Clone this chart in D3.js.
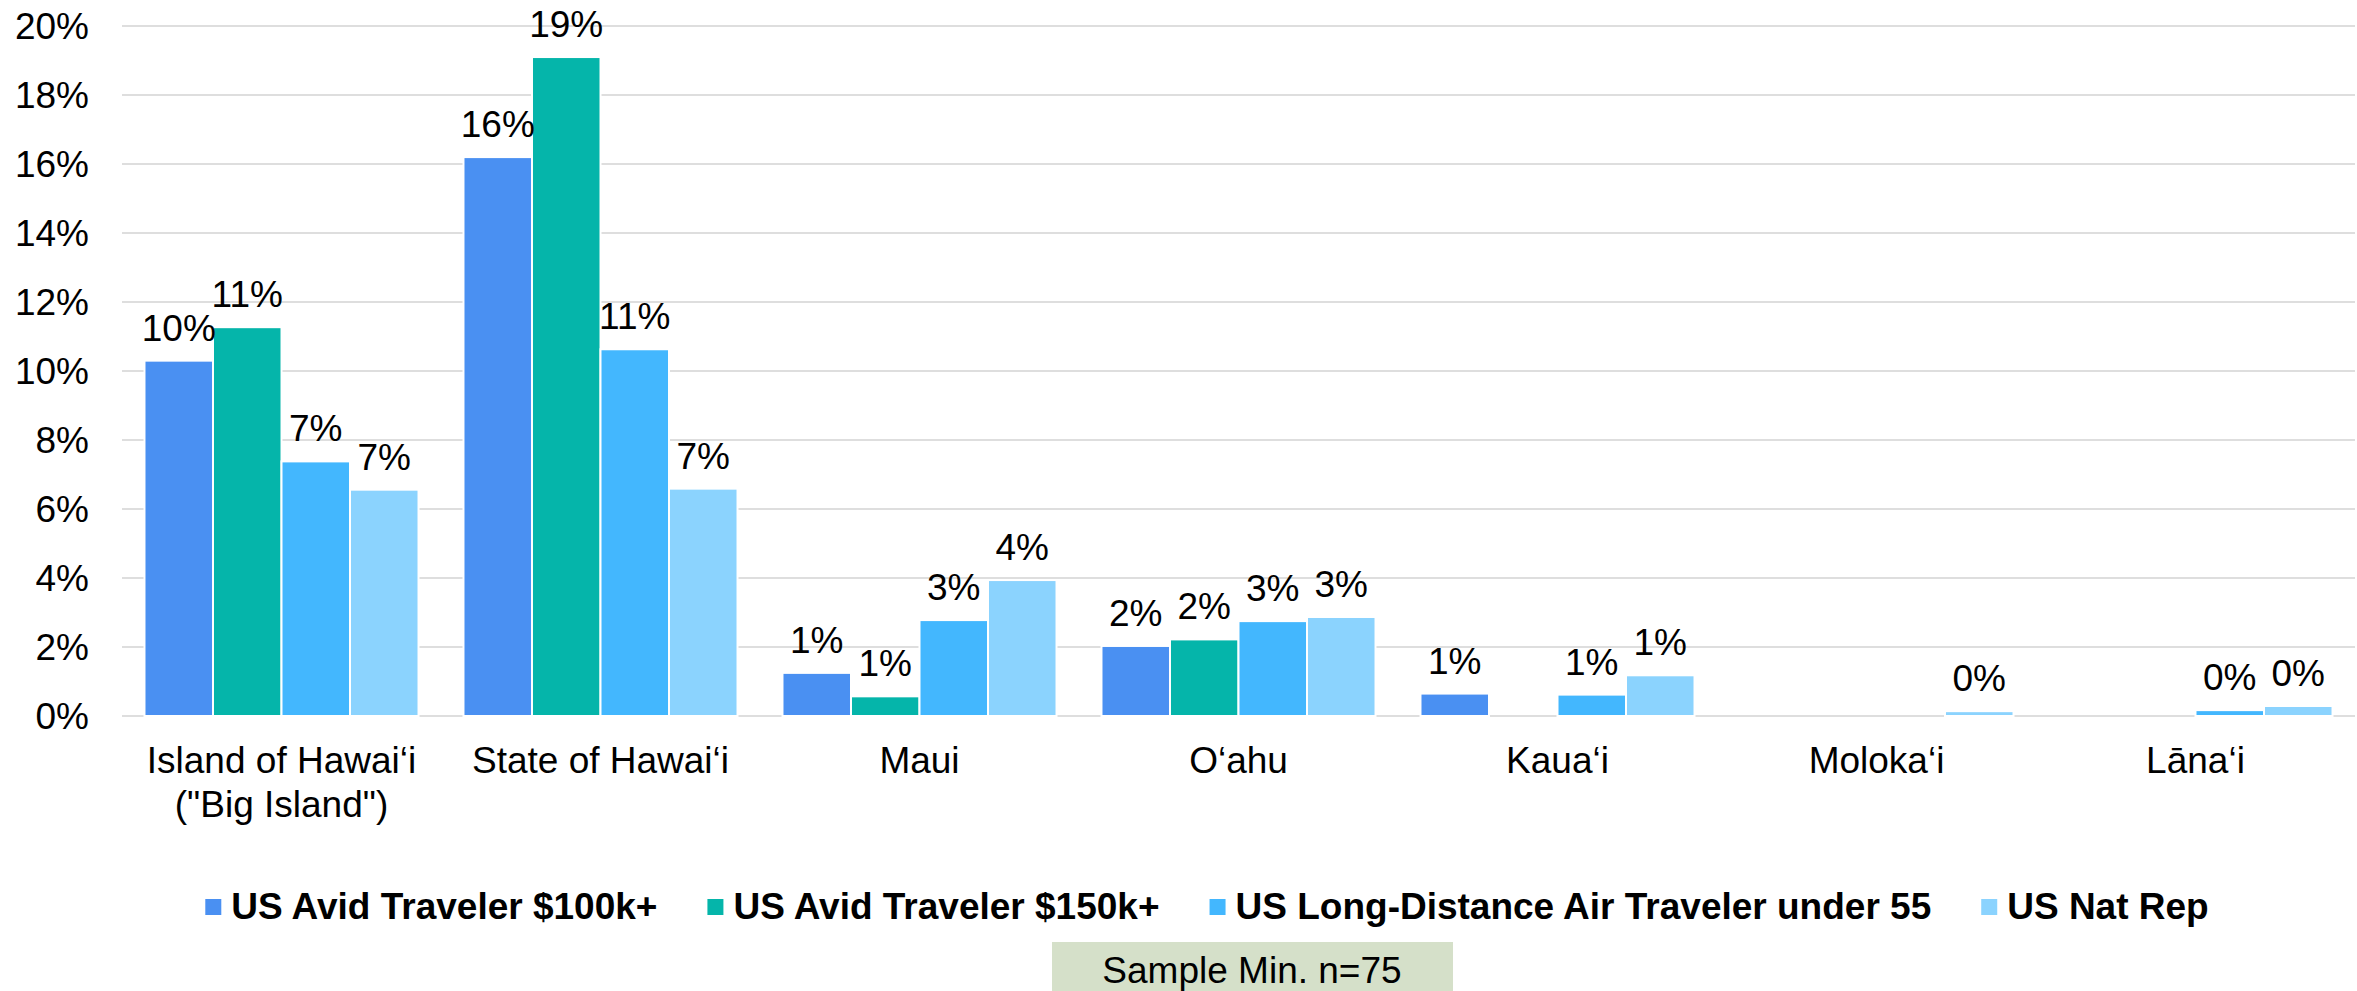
<!DOCTYPE html>
<html>
<head>
<meta charset="utf-8">
<script src="https://cdn.jsdelivr.net/npm/d3@7"></script>
<style>
  body { margin: 0; background: #fff; }
  svg text { font-family: Arial, "Liberation Sans", sans-serif; fill: #000; }
</style>
</head>
<body>
<div id="chart"></div>
<script>
// data (percent)
const categories = [["Island of Hawai‘i", "(\"Big Island\")"], ["State of Hawai‘i"], ["Maui"], ["O‘ahu"], ["Kaua‘i"], ["Moloka‘i"], ["Lāna‘i"]];
const seriesNames = ["US Avid Traveler $100k+", "US Avid Traveler $150k+", "US Long-Distance Air Traveler under 55", "US Nat Rep"];
const avid100k = [10.3, 16.2, 1.25, 2.03, 0.65, null, null];
const avid150k = [11.27, 19.1, 0.57, 2.22, null, null, null];
const longDistance = [7.38, 10.63, 2.78, 2.75, 0.62, null, 0.17];
const natRep = [6.56, 6.59, 3.94, 2.87, 1.18, 0.14, 0.29];
const yTicks = [0, 2, 4, 6, 8, 10, 12, 14, 16, 18, 20];
const sampleNote = "Sample Min. n=75";

const colors = ["#4a90f2", "#05b5aa", "#43b7fe", "#8bd3fe"];
const allSeries = [avid100k, avid150k, longDistance, natRep];

const width = 2357, height = 991;
const svg = d3.select("#chart").append("svg")
    .attr("width", width)
    .attr("height", height);

const x0 = d3.scaleBand()
    .domain(d3.range(categories.length))
    .range([122, 2355])
    .paddingInner(0.141)
    .paddingOuter(0.0705);

const x1 = d3.scaleBand()
    .domain(d3.range(seriesNames.length))
    .range([0, x0.bandwidth()]);

const y = d3.scaleLinear()
    .domain([0, 20])
    .range([716, 26]);

// gridlines
svg.append("g")
    .selectAll("line")
    .data(yTicks)
    .enter()
    .append("line")
    .attr("x1", 122)
    .attr("x2", 2355)
    .attr("y1", d => y(d))
    .attr("y2", d => y(d))
    .style("stroke", "#dedede")
    .style("stroke-width", 2);

// y labels
svg.append("g")
    .selectAll("text")
    .data(yTicks)
    .enter()
    .append("text")
    .attr("x", 89)
    .attr("y", d => y(d))
    .attr("dy", "0.35em")
    .attr("text-anchor", "end")
    .style("font-size", "37px")
    .text(d => d + "%");

// bars
const groups = svg.append("g")
    .selectAll("g")
    .data(categories)
    .enter()
    .append("g")
    .attr("transform", (d, i) => `translate(${x0(i)},0)`);

groups.each(function(c, ci) {
    const pts = allSeries.map((s, si) => ({si: si, v: s[ci]})).filter(p => p.v !== null);
    const g = d3.select(this);
    g.selectAll("rect")
        .data(pts)
        .enter()
        .append("rect")
        .attr("x", p => x1(p.si))
        .attr("width", x1.bandwidth())
        .attr("y", p => y(p.v))
        .attr("height", p => y(0) - y(p.v))
        .style("fill", p => colors[p.si])
        .style("stroke", "white")
        .style("stroke-width", 2);

    g.selectAll("text.lbl")
        .data(pts)
        .enter()
        .append("text")
        .attr("class", "lbl")
        .attr("x", p => x1(p.si) + x1.bandwidth() / 2)
        .attr("y", p => y(p.v) - 20)
        .attr("text-anchor", "middle")
        .style("font-size", "37px")
        .text(p => Math.round(p.v) + "%");
});

// category labels
svg.append("g")
    .selectAll("text")
    .data(categories)
    .enter()
    .append("text")
    .attr("x", (d, i) => x0(i) + x0.bandwidth() / 2)
    .attr("y", 773)
    .attr("text-anchor", "middle")
    .style("font-size", "37px")
    .each(function(lines) {
        d3.select(this).selectAll("tspan")
            .data(lines)
            .enter()
            .append("tspan")
            .attr("x", d3.select(this).attr("x"))
            .attr("dy", (l, k) => k === 0 ? 0 : 44)
            .text(l => l);
    });

// legend
const legend = svg.append("g");
let lx = 0;
seriesNames.forEach((name, i) => {
    const item = legend.append("g").attr("transform", `translate(${lx},0)`);
    item.append("rect")
        .attr("x", 0)
        .attr("y", 899)
        .attr("width", 16)
        .attr("height", 16)
        .style("fill", colors[i]);
    const t = item.append("text")
        .attr("x", 26)
        .attr("y", 919)
        .style("font-size", "37px")
        .style("font-weight", "bold")
        .text(name);
    lx += 26 + t.node().getComputedTextLength() + 50;
});
const legendW = lx - 50;
legend.attr("transform", `translate(${1207 - legendW / 2},0)`);

// sample note box
svg.append("rect")
    .attr("x", 1052)
    .attr("y", 942)
    .attr("width", 401)
    .attr("height", 52)
    .style("fill", "#d5e0c9");
svg.append("text")
    .attr("x", 1252)
    .attr("y", 983)
    .attr("text-anchor", "middle")
    .style("font-size", "37px")
    .text(sampleNote);
</script>
</body>
</html>
